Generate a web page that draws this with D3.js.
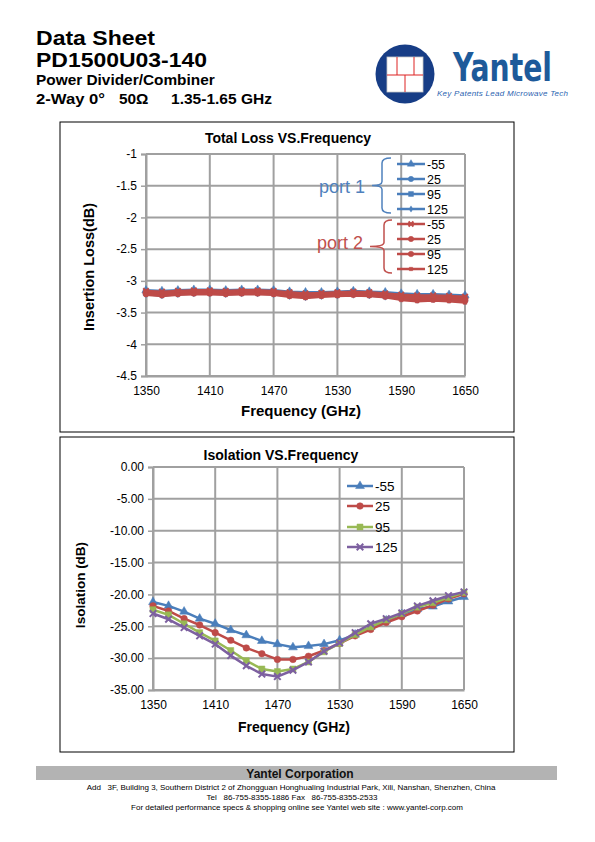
<!DOCTYPE html>
<html><head><meta charset="utf-8">
<script src="https://cdn.jsdelivr.net/npm/d3@7"></script>
<style>
body{margin:0;background:#fff;}
svg text{font-family:"Liberation Sans",Arial,sans-serif;}
</style></head>
<body>
<svg id="page" width="595" height="842"></svg>
<script>
// ---------- DATA ----------
const freqs = [1350,1365,1380,1395,1410,1425,1440,1455,1470,1485,1500,1515,1530,1545,1560,1575,1590,1605,1620,1635,1650];
const xTicks = [1350,1410,1470,1530,1590,1650];
const lossTicks = [-1,-1.5,-2,-2.5,-3,-3.5,-4,-4.5];
const isoTicks = [0,-5,-10,-15,-20,-25,-30,-35];
const tempLabels = ["-55","25","95","125"];

const p1m55 = [-3.15,-3.16,-3.15,-3.14,-3.14,-3.15,-3.14,-3.14,-3.15,-3.17,-3.18,-3.18,-3.17,-3.16,-3.17,-3.18,-3.20,-3.21,-3.21,-3.22,-3.23];
const p1t25 = [-3.17,-3.19,-3.17,-3.16,-3.16,-3.17,-3.16,-3.16,-3.17,-3.19,-3.21,-3.20,-3.19,-3.18,-3.19,-3.21,-3.23,-3.24,-3.24,-3.25,-3.26];
const p1t95 = [-3.19,-3.21,-3.19,-3.18,-3.18,-3.19,-3.18,-3.18,-3.19,-3.21,-3.23,-3.22,-3.21,-3.20,-3.21,-3.23,-3.26,-3.27,-3.27,-3.28,-3.29];
const p1t125 = [-3.21,-3.23,-3.21,-3.20,-3.20,-3.21,-3.20,-3.20,-3.21,-3.24,-3.26,-3.24,-3.23,-3.22,-3.23,-3.25,-3.28,-3.30,-3.29,-3.30,-3.32];
const p2m55 = [-3.16,-3.17,-3.16,-3.15,-3.15,-3.16,-3.15,-3.15,-3.16,-3.18,-3.20,-3.19,-3.18,-3.17,-3.18,-3.20,-3.22,-3.23,-3.23,-3.24,-3.25];
const p2t25 = [-3.18,-3.20,-3.18,-3.17,-3.17,-3.18,-3.17,-3.17,-3.18,-3.21,-3.23,-3.21,-3.20,-3.19,-3.20,-3.22,-3.25,-3.26,-3.26,-3.27,-3.28];
const p2t95 = [-3.20,-3.22,-3.20,-3.19,-3.19,-3.20,-3.19,-3.19,-3.20,-3.23,-3.25,-3.23,-3.22,-3.21,-3.22,-3.24,-3.27,-3.29,-3.28,-3.29,-3.31];
const p2t125 = [-3.22,-3.24,-3.22,-3.21,-3.21,-3.22,-3.21,-3.21,-3.22,-3.25,-3.27,-3.25,-3.24,-3.23,-3.24,-3.26,-3.30,-3.32,-3.31,-3.32,-3.34];

const isoM55 = [-21.2,-21.8,-22.7,-23.8,-24.6,-25.6,-26.4,-27.3,-27.8,-28.3,-28.1,-27.8,-27.2,-26.3,-25.1,-24.1,-23.1,-22.3,-21.9,-21.1,-20.4];
const iso25 = [-21.8,-22.6,-23.8,-24.8,-26.0,-27.2,-28.4,-29.3,-30.2,-30.2,-29.7,-28.8,-27.7,-26.5,-25.5,-24.4,-23.5,-22.6,-21.7,-20.7,-19.9];
const iso95 = [-22.4,-23.2,-24.6,-26.0,-27.3,-28.8,-30.4,-31.7,-32.1,-31.7,-30.6,-29.0,-27.7,-26.3,-25.1,-24.0,-23.0,-22.0,-21.3,-20.5,-19.7];
const iso125 = [-23.0,-23.9,-25.2,-26.5,-27.8,-29.6,-31.2,-32.5,-32.9,-31.9,-30.6,-28.9,-27.6,-26.0,-24.6,-23.8,-22.9,-21.8,-21.0,-20.2,-19.6];

// ---------- STYLE ----------
const BLUE = "#4a7ebb", RED = "#be4b48", GREEN = "#98b954", PURPLE = "#7d60a0";
const GRID = "#a0a0a0";
const svg = d3.select("#page");

// ---------- HEADER ----------
const hdr = svg.append("g");
hdr.append("text").attr("x",36).attr("y",45).attr("font-size",19.6).attr("font-weight","bold").attr("textLength",119).attr("lengthAdjust","spacingAndGlyphs").text("Data Sheet");
hdr.append("text").attr("x",36).attr("y",67).attr("font-size",19.6).attr("font-weight","bold").attr("textLength",171).attr("lengthAdjust","spacingAndGlyphs").text("PD1500U03-140");
hdr.append("text").attr("x",36).attr("y",85).attr("font-size",15.4).attr("font-weight","bold").text("Power Divider/Combiner");
hdr.append("text").attr("x",36).attr("y",104).attr("font-size",15.4).attr("font-weight","bold").attr("textLength",69).attr("lengthAdjust","spacingAndGlyphs").text("2-Way 0°");
hdr.append("text").attr("x",119).attr("y",104).attr("font-size",15.4).attr("font-weight","bold").text("50Ω");
hdr.append("text").attr("x",171).attr("y",104).attr("font-size",15.4).attr("font-weight","bold").attr("textLength",101).attr("lengthAdjust","spacingAndGlyphs").text("1.35-1.65 GHz");

// logo
const logo = svg.append("g");
logo.append("circle").attr("cx",405).attr("cy",74).attr("r",29.5).attr("fill","#173d86");
logo.append("rect").attr("x",387).attr("y",57).attr("width",36).attr("height",35).attr("fill","#fff").attr("stroke","#c9c9c9").attr("stroke-width",0.8);
logo.append("line").attr("x1",387).attr("x2",423).attr("y1",75).attr("y2",75).attr("stroke","#d22").attr("stroke-width",1);
logo.append("line").attr("x1",397).attr("x2",397).attr("y1",57).attr("y2",75).attr("stroke","#d22").attr("stroke-width",1);
logo.append("line").attr("x1",414).attr("x2",414).attr("y1",57).attr("y2",75).attr("stroke","#d22").attr("stroke-width",1);
logo.append("line").attr("x1",405).attr("x2",405).attr("y1",75).attr("y2",92).attr("stroke","#d22").attr("stroke-width",1);
logo.append("text").attr("x",453).attr("y",81).attr("font-size",39).attr("font-weight","bold")
  .attr("fill","#1d5a9a").attr("textLength",99).attr("lengthAdjust","spacingAndGlyphs")
  .style("font-family","'Liberation Sans Narrow','DejaVu Sans Condensed',sans-serif").text("Yantel");
logo.append("text").attr("x",437).attr("y",96).attr("font-size",8).attr("font-style","italic")
  .attr("fill","#2a63b0").attr("textLength",131).attr("lengthAdjust","spacing").text("Key Patents Lead Microwave Tech");

// ---------- chart helper ----------
function drawFrame(box, plot, yTicks, yDomain, fmt) {
  svg.append("rect").attr("x",box.x).attr("y",box.y).attr("width",box.w).attr("height",box.h)
    .attr("fill","#fff").attr("stroke","#000").attr("stroke-width",1);
  const x = d3.scaleLinear().domain([1350,1650]).range([plot.x0,plot.x1]);
  const y = d3.scaleLinear().domain(yDomain).range([plot.y1,plot.y0]);
  const g = svg.append("g");
  g.selectAll(".hg").data(yTicks).join("line")
    .attr("x1",plot.x0).attr("x2",plot.x1).attr("y1",d=>y(d)).attr("y2",d=>y(d))
    .attr("stroke",GRID).attr("stroke-width",2);
  g.selectAll(".vg").data(xTicks).join("line")
    .attr("x1",d=>x(d)).attr("x2",d=>x(d)).attr("y1",plot.y0).attr("y2",plot.y1)
    .attr("stroke",GRID).attr("stroke-width",2);
  const ya = d3.axisLeft(y).tickValues(yTicks).tickFormat(fmt).tickSize(5).tickPadding(4);
  const ay = g.append("g").attr("transform",`translate(${plot.x0},0)`).call(ya);
  ay.select(".domain").attr("stroke",GRID).attr("stroke-width",2);
  ay.selectAll(".tick line").attr("stroke",GRID).attr("stroke-width",1.5);
  ay.selectAll("text").attr("font-size",12).attr("fill","#000").style("font-family","'Liberation Sans',Arial,sans-serif");
  const xa = d3.axisBottom(x).tickValues(xTicks).tickFormat(d=>String(d)).tickSize(0).tickPadding(10);
  const ax = g.append("g").attr("transform",`translate(0,${plot.y1})`).call(xa);
  ax.select(".domain").attr("stroke",GRID).attr("stroke-width",2);
  ax.selectAll("text").attr("font-size",12).attr("fill","#000").style("font-family","'Liberation Sans',Arial,sans-serif");
  return {x,y,g};
}

function drawSeries(ch, values, color, symType, size, strokeSym) {
  const line = d3.line().x((d,i)=>ch.x(freqs[i])).y(d=>ch.y(d));
  ch.g.append("path").datum(values).attr("d",line).attr("fill","none")
    .attr("stroke",color).attr("stroke-width",2.5).attr("stroke-linejoin","round");
  const sym = d3.symbol().type(symType).size(size);
  ch.g.selectAll(null).data(values).join("path")
    .attr("d",sym).attr("transform",(d,i)=>`translate(${ch.x(freqs[i])},${ch.y(d)})`)
    .attr("fill",strokeSym?"none":color).attr("stroke",color).attr("stroke-width",strokeSym?2:0.5);
}

function legendItem(g, x0, x1, y, color, symType, size, strokeSym, label, fs) {
  g.append("line").attr("x1",x0).attr("x2",x1).attr("y1",y).attr("y2",y).attr("stroke",color).attr("stroke-width",2.5);
  g.append("path").attr("d",d3.symbol().type(symType).size(size)()).attr("transform",`translate(${(x0+x1)/2},${y})`)
    .attr("fill",strokeSym?"none":color).attr("stroke",color).attr("stroke-width",strokeSym?2:0.5);
  g.append("text").attr("x",x1+2).attr("y",y+4.5).attr("font-size",fs).attr("fill","#000").text(label);
}

// ---------- TOP CHART ----------
const lossChart = drawFrame({x:60,y:122,w:454,h:310},{x0:146,x1:465,y0:154,y1:376},lossTicks,[-4.5,-1],d=>String(d));
svg.append("text").attr("x",288).attr("y",143).attr("text-anchor","middle").attr("font-size",14).attr("font-weight","bold").text("Total Loss VS.Frequency");
svg.append("text").attr("transform","translate(94,267) rotate(-90)").attr("text-anchor","middle").attr("font-size",14.5).attr("font-weight","bold").text("Insertion Loss(dB)");
svg.append("text").attr("x",301).attr("y",416).attr("text-anchor","middle").attr("font-size",15).attr("font-weight","bold").text("Frequency (GHz)");

const p1 = [[p1m55,d3.symbolTriangle,30,false],[p1t25,d3.symbolCircle,28,false],[p1t95,d3.symbolSquare,30,false],[p1t125,d3.symbolDiamond,14,false]];
const p2 = [[p2m55,d3.symbolX,22,true],[p2t25,d3.symbolCircle,28,false],[p2t95,d3.symbolCircle,30,false],[p2t125,d3.symbolSquare,14,false]];
p1.forEach(s=>drawSeries(lossChart,s[0],BLUE,s[1],s[2],s[3]));
p2.forEach(s=>drawSeries(lossChart,s[0],RED,s[1],s[2],s[3]));

const tl = svg.append("g");
const p1y = [164,179,194,209], p2y = [224,239,254,269];
p1.forEach((s,i)=>legendItem(tl,397,425,p1y[i],BLUE,s[1],s[2]*0.8,s[3],tempLabels[i],12.5));
p2.forEach((s,i)=>legendItem(tl,397,425,p2y[i],RED,s[1],s[2]*0.8,s[3],tempLabels[i],12.5));
function brace(g, xr, xl, yt, yb, tipX, color) {
  const ym = (yt+yb)/2;
  const p = `M${xr},${yt} Q${xl},${yt} ${xl},${yt+5} L${xl},${ym-4} Q${xl},${ym} ${tipX},${ym} Q${xl},${ym} ${xl},${ym+4} L${xl},${yb-5} Q${xl},${yb} ${xr},${yb}`;
  g.append("path").attr("d",p).attr("fill","none").attr("stroke",color).attr("stroke-width",1.5);
}
brace(tl,391,382,158,213,372,"#4f81bd");
brace(tl,392,384,220,273,370,"#c0504d");
tl.append("text").attr("x",319).attr("y",193).attr("font-size",18).attr("fill","#4f81bd").text("port 1");
tl.append("text").attr("x",317).attr("y",249).attr("font-size",18).attr("fill","#c0504d").text("port 2");

// ---------- BOTTOM CHART ----------
const isoChart = drawFrame({x:60,y:437,w:454,h:315},{x0:153,x1:464,y0:467,y1:690},isoTicks,[-35,0],d=>d.toFixed(2));
svg.append("text").attr("x",281).attr("y",460).attr("text-anchor","middle").attr("font-size",14).attr("font-weight","bold").text("Isolation VS.Frequency");
svg.append("text").attr("transform","translate(85,585) rotate(-90)").attr("text-anchor","middle").attr("font-size",13.5).attr("font-weight","bold").text("Isolation (dB)");
svg.append("text").attr("x",294).attr("y",732).attr("text-anchor","middle").attr("font-size",14).attr("font-weight","bold").text("Frequency (GHz)");

const iso = [[isoM55,BLUE,d3.symbolTriangle,34,false],[iso25,RED,d3.symbolCircle,34,false],[iso95,GREEN,d3.symbolSquare,36,false],[iso125,PURPLE,d3.symbolX,30,true]];
iso.forEach(s=>drawSeries(isoChart,s[0],s[1],s[2],s[3],s[4]));
const bl = svg.append("g");
const bly = [486,506,527,547];
iso.forEach((s,i)=>legendItem(bl,347,373,bly[i],s[1],s[2],s[3],s[4],tempLabels[i],13.5));

// ---------- FOOTER ----------
svg.append("rect").attr("x",36).attr("y",766).attr("width",521).attr("height",14).attr("fill","#b3b3b3");
svg.append("text").attr("x",300).attr("y",777.5).attr("text-anchor","middle").attr("font-size",12).attr("font-weight","bold").attr("fill","#111").text("Yantel Corporation");
svg.append("text").attr("x",291).attr("y",790).attr("text-anchor","middle").attr("font-size",8).attr("xml:space","preserve")
  .text("Add   3F, Building 3, Southern District 2 of Zhongguan Honghualing Industrial Park, Xili, Nanshan, Shenzhen, China");
svg.append("text").attr("x",292).attr("y",800).attr("text-anchor","middle").attr("font-size",8).attr("xml:space","preserve")
  .text("Tel   86-755-8355-1886 Fax   86-755-8355-2533");
svg.append("text").attr("x",297).attr("y",809.5).attr("text-anchor","middle").attr("font-size",8)
  .text("For detailed performance specs & shopping online see Yantel web site : www.yantel-corp.com");
</script>
</body></html>
